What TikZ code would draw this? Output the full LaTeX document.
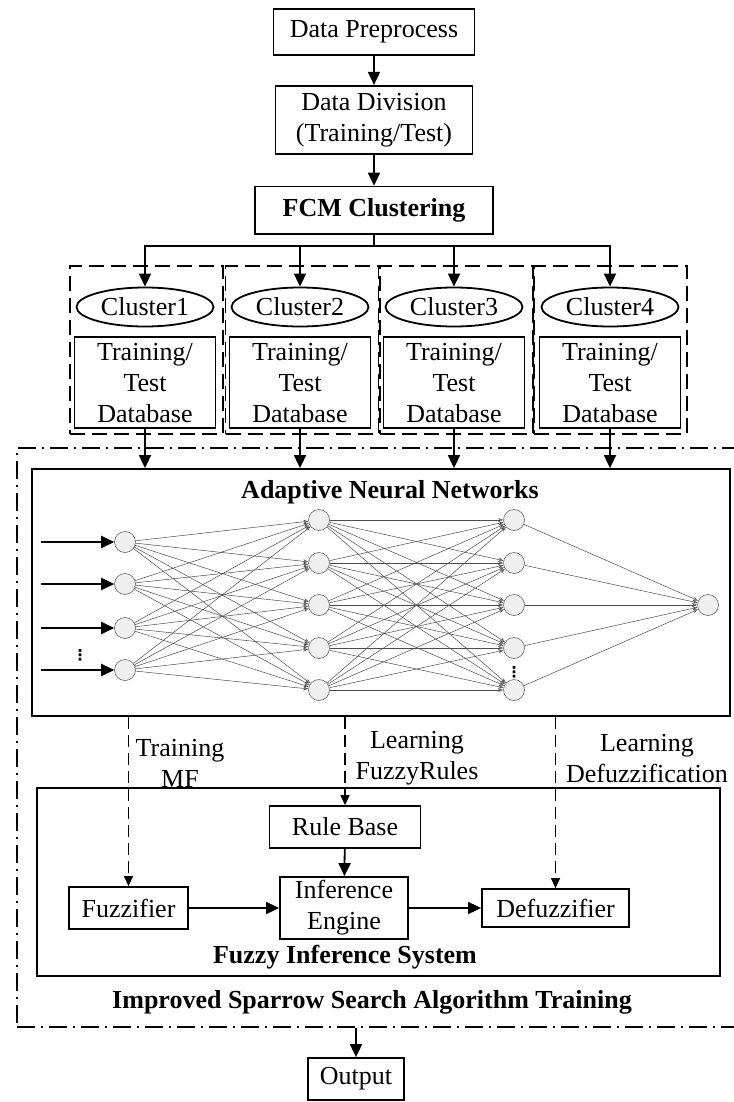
\documentclass[tikz,border=0pt]{standalone}
\usepackage{fontspec}
\setmainfont{Liberation Serif}
\newfontfamily\dotsfont{DejaVu Sans}
\usetikzlibrary{arrows.meta,positioning,shapes.geometric}

\begin{document}
\begin{tikzpicture}[
  x=1pt, y=-1pt,
  font=\fontsize{26}{31}\selectfont,
  box/.style={rectangle, draw, line width=1.8pt, align=center, inner sep=0pt},
  bold/.style={font=\fontsize{26}{31}\selectfont\bfseries, inner sep=0pt},
  clus/.style={ellipse, draw, line width=1.8pt, minimum width=137pt, minimum height=39pt, inner sep=0pt},
  db/.style={box, minimum width=141pt, minimum height=91pt},
  grp/.style={rectangle, draw, line width=1.8pt, dash pattern=on 15pt off 7pt,
              minimum width=153pt, minimum height=168pt},
  outer/.style={rectangle, draw, line width=1.8pt, dash pattern=on 18pt off 6pt on 2pt off 6pt},
  neuron/.style={circle, draw=black!60, fill=black!6, line width=0.6pt, minimum size=21pt, inner sep=0pt},
  lbl/.style={align=center, inner sep=0pt},
  vdot/.style={inner sep=0pt, font=\dotsfont\bfseries\fontsize{15}{15}\selectfont},
  arr/.style={-{Triangle[length=13pt,width=12pt]}, line width=1.8pt},
  darr/.style={-{Triangle[length=10pt,width=9pt]}, line width=1.3pt, dash pattern=on 12pt off 6pt},
  link/.style={-{Stealth[length=5pt,width=4pt,open]}, line width=0.5pt, draw=black!70}
]
\useasboundingbox (0,0) rectangle (733,1102);

\node[box, minimum width=201pt, minimum height=46pt] (pre) at (374,32) {Data Preprocess};
\node[box, minimum width=197pt, minimum height=68pt, below=29pt of pre] (div) {Data Division\\(Training/Test)};
\node[box, bold, minimum width=238pt, minimum height=47pt, below=31pt of div] (fcm) {FCM Clustering};
\draw[arr] (pre) -- (div);
\draw[arr] (div) -- (fcm);

\foreach \i/\x/\gx in {1/145/146.5,2/300/302,3/454/456.5,4/610/610.5} {
  \node[grp] (g\i) at (\gx,350) {};
  \node[clus] (c\i) at (\x,307) {Cluster\i};
  \node[db, below=9pt of c\i] (db\i) {Training/\\Test\\Database};
  \draw[arr] (fcm.south) -- (fcm.south |- 0,246) -| (c\i.north);
}

\node[outer, minimum width=728pt, minimum height=579pt] (isa) at (381,737.5) {};
\node[box, minimum width=698pt, minimum height=247pt] (ann) at (381,592.5) {};
\node[bold] (anntitle) at (390,492) {Adaptive Neural Networks};
\foreach \i in {1,...,4}
  \draw[arr] (db\i.south) -- (db\i.south |- ann.north);

\foreach \j/\y in {1/542,2/584,3/628,4/670} {
  \node[neuron] (in\j) at (125,\y) {};
  \draw[arr, line width=2.4pt] ([xshift=-73pt]in\j.west) -- (in\j.west);
}
\foreach \j/\y in {1/520,2/563,3/605,4/648,5/690} {
  \node[neuron] (ha\j) at (319,\y) {};
  \node[neuron] (hb\j) at (514,\y) {};
}
\node[neuron] (o) at (708,605) {};
\node[vdot] (indots) at (80,655) {⋮};
\node[vdot] (hdots) at (514,672) {⋮};

\foreach \j in {1,...,4}
  \foreach \k in {1,...,5}
    \draw[link] (in\j) -- (ha\k);
\foreach \j in {1,...,5}
  \foreach \k in {1,...,5}
    \draw[link] (ha\j) -- (hb\k);
\foreach \j in {1,...,5}
  \draw[link] (hb\j) -- (o);

\node[box, minimum width=683pt, minimum height=188pt] (fis) at (378.5,882) {};
\node[box, minimum width=151pt, minimum height=42pt] (rb) at (345,827) {Rule Base};
\node[box, minimum width=128pt, minimum height=62pt] (ie) at (344,908) {Inference\\Engine};
\node[box, minimum width=119pt, minimum height=42pt] (fz) at (128.5,908) {Fuzzifier};
\node[box, minimum width=147pt, minimum height=38pt] (dfz) at (555.5,908) {Defuzzifier};
\node[bold] (fistitle) at (345,957) {Fuzzy Inference System};
\node[bold] (isatitle) at (372,1002) {Improved Sparrow Search Algorithm Training};

\node[lbl] (lmf) at (180,763) {Training\\MF};
\node[lbl] (lrule) at (417,758.5) {Learning\\FuzzyRules};
\node[lbl] (ldef) at (647,758.5) {Learning\\Defuzzification};

\draw[darr] (ann.south -| fz.north) -- (fz.north);
\draw[darr] (ann.south -| rb.north) -- (rb.north);
\draw[darr] (ann.south -| dfz.north) -- (dfz.north);
\draw[arr] (rb) -- (ie);
\draw[arr] (fz) -- (ie);
\draw[arr] (ie) -- (dfz);

\node[box, minimum width=96pt, minimum height=42pt] (out) at (356,1079) {Output};
\draw[arr] (isa.south -| out.north) -- (out.north);
\end{tikzpicture}
\end{document}
